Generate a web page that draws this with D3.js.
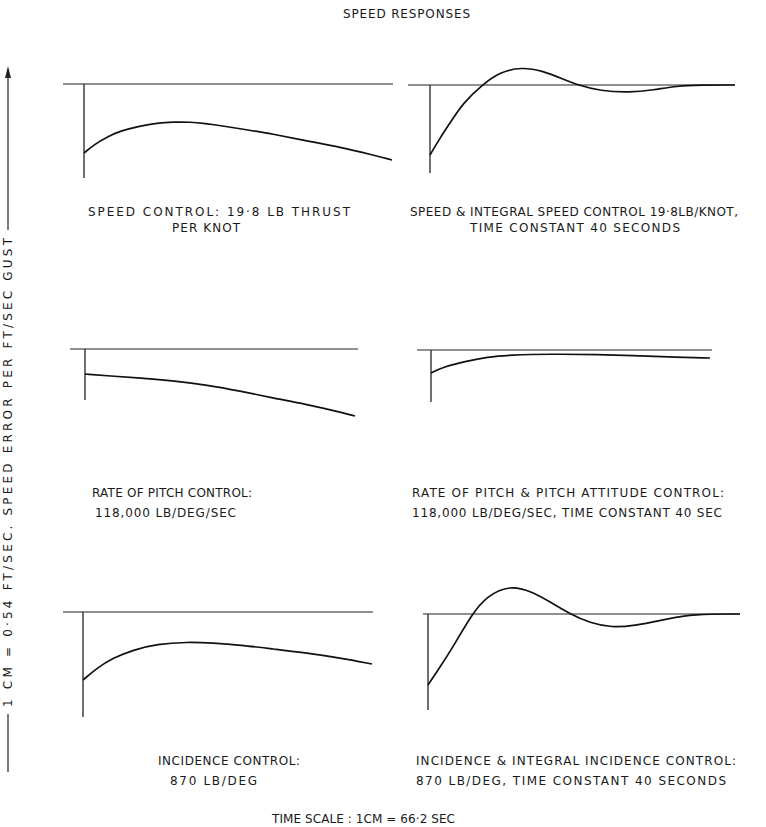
<!DOCTYPE html>
<html lang="en">
  <head>
    <title>Speed responses</title>
    <script src="https://d3js.org/d3.v7.min.js" charset="utf-8"></script>
    <style type="text/css">
      body {
        margin: 0;
        background: white;
        font-family: "DejaVu Sans", "Liberation Sans", sans-serif;
      }
      text {
        fill: #1a1a1a;
        font-size: 12px;
      }
    </style>
  </head>
  <body>
    <script>
      // time in seconds after the gust, speed error in ft/sec per ft/sec gust (chart units)
      var titles = ["SPEED RESPONSES"];
      var yLabel = "1 CM = 0\u00b754  FT/SEC. SPEED ERROR PER FT/SEC GUST";
      var xLabel = "TIME SCALE : 1CM = 66\u00b72 SEC";

      var captions = [
        ["SPEED CONTROL: 19\u00b78 LB THRUST", "PER KNOT"],
        ["SPEED & INTEGRAL SPEED CONTROL 19\u00b78LB/KNOT,", "TIME CONSTANT 40 SECONDS"],
        ["RATE OF PITCH CONTROL:", "118,000 LB/DEG/SEC"],
        ["RATE OF PITCH & PITCH ATTITUDE CONTROL:", "118,000 LB/DEG/SEC, TIME CONSTANT 40 SEC"],
        ["INCIDENCE CONTROL:", "870 LB/DEG"],
        ["INCIDENCE & INTEGRAL INCIDENCE CONTROL:", "870 LB/DEG, TIME CONSTANT 40 SECONDS"]
      ];

      var timeSpeed = [0, 22, 46, 72, 112, 146, 178, 212, 242, 278, 328, 378, 446, 512, 578, 616];
      var errSpeed = [-0.69, -0.60, -0.53, -0.47, -0.42, -0.39, -0.38, -0.38, -0.395, -0.42, -0.46, -0.50, -0.57, -0.63, -0.71, -0.76];

      var timeSpeedInt = [0, 20, 40, 66, 104, 140, 184, 226, 266, 296, 340, 400, 446, 494, 540, 610];
      var errSpeedInt = [-0.70, -0.53, -0.38, -0.18, 0, 0.13, 0.18, 0.14, 0.06, 0, -0.06, -0.075, -0.05, -0.01, 0, 0];

      var timePitch = [0, 50, 110, 180, 244, 310, 376, 440, 510, 540];
      var errPitch = [-0.25, -0.27, -0.29, -0.32, -0.36, -0.42, -0.49, -0.55, -0.63, -0.67];

      var timePitchAtt = [0, 24, 72, 112, 158, 238, 338, 404, 472, 558];
      var errPitchAtt = [-0.23, -0.17, -0.11, -0.07, -0.05, -0.04, -0.045, -0.055, -0.07, -0.08];

      var timeInc = [0, 28, 60, 100, 148, 208, 260, 314, 380, 448, 514, 578];
      var errInc = [-0.68, -0.56, -0.46, -0.38, -0.32, -0.30, -0.31, -0.33, -0.37, -0.41, -0.46, -0.52];

      var timeIncInt = [0, 24, 50, 88, 118, 164, 210, 244, 284, 324, 368, 410, 478, 530, 624];
      var errIncInt = [-0.71, -0.53, -0.33, 0, 0.18, 0.29, 0.22, 0.12, 0, -0.09, -0.135, -0.12, -0.05, 0, 0];

      // time span of each zero line, and depth of the gust marker
      var timeSpans = [[-42, 618], [-44, 610], [-30, 546], [-28, 562], [-40, 580], [-10, 624]];
      var gustDepth = [0.94, 0.88, 0.51, 0.52, 1.05, 0.96];

      var series = [
        [timeSpeed, errSpeed], [timeSpeedInt, errSpeedInt],
        [timePitch, errPitch], [timePitchAtt, errPitchAtt],
        [timeInc, errInc], [timeIncInt, errIncInt]
      ];

      var width = 766;
      var height = 827;
      var pxPerUnit = 100;

      // panel placement: zero line extent and level
      var panels = [
        {x0: 63, x1: 393, y0: 84},
        {x0: 408, x1: 735, y0: 85},
        {x0: 70, x1: 358, y0: 349},
        {x0: 417, x1: 712, y0: 350},
        {x0: 63, x1: 373, y0: 612},
        {x0: 423, x1: 740, y0: 614}
      ];

      // caption lines: x, baseline y, drawn width
      var captionPos = [
        [[88, 216, 262], [172, 232, 68]],
        [[410, 216, 328], [470, 232, 210]],
        [[92, 497, 160], [95, 517, 141]],
        [[412, 497, 312], [412, 517, 310]],
        [[158, 765, 142], [170, 785, 87]],
        [[416, 765, 320], [416, 785, 310]]
      ];

      var svg = d3.select("body")
        .append("svg")
        .attr("width", width)
        .attr("height", height);

      var line = d3.line().curve(d3.curveBasis);

      panels.forEach(function(p, i) {
        var x = d3.scaleLinear().domain(timeSpans[i]).range([p.x0, p.x1]);
        var y = d3.scaleLinear().domain([0, -1]).range([p.y0, p.y0 + pxPerUnit]);
        var g = svg.append("g");

        // zero line
        g.append("line")
          .attr("x1", x(timeSpans[i][0])).attr("x2", x(timeSpans[i][1]))
          .attr("y1", y(0)).attr("y2", y(0))
          .attr("stroke", "#222").attr("stroke-width", 1.2);

        // gust marker
        g.append("line")
          .attr("x1", x(0)).attr("x2", x(0))
          .attr("y1", y(0)).attr("y2", y(-gustDepth[i]))
          .attr("stroke", "#222").attr("stroke-width", 1.3);

        var pts = series[i][0].map(function(t, k) { return [x(t), y(series[i][1][k])]; });
        g.append("path")
          .attr("d", line(pts))
          .attr("fill", "none")
          .attr("stroke", "#111")
          .attr("stroke-width", 1.7);

        captions[i].forEach(function(txt, k) {
          var c = captionPos[i][k];
          g.append("text")
            .attr("x", c[0]).attr("y", c[1])
            .attr("textLength", c[2])
            .attr("lengthAdjust", "spacing")
            .text(txt);
        });
      });

      // title
      svg.append("text")
        .attr("x", 343).attr("y", 18)
        .attr("textLength", 127)
        .attr("lengthAdjust", "spacing")
        .text(titles[0]);

      // time scale note
      svg.append("text")
        .attr("x", 272).attr("y", 823)
        .attr("textLength", 183)
        .attr("lengthAdjust", "spacing")
        .text(xLabel);

      // vertical scale label with arrow
      var yl = svg.append("g");
      yl.append("line")
        .attr("x1", 8).attr("x2", 8).attr("y1", 772).attr("y2", 714)
        .attr("stroke", "#222").attr("stroke-width", 1.2);
      yl.append("line")
        .attr("x1", 8).attr("x2", 8).attr("y1", 230).attr("y2", 70)
        .attr("stroke", "#222").attr("stroke-width", 1.2);
      yl.append("path")
        .attr("d", "M8,66 L5,78 L11,78 Z")
        .attr("fill", "#222");
      yl.append("text")
        .attr("transform", "translate(12,707) rotate(-90)")
        .attr("textLength", 469)
        .attr("lengthAdjust", "spacing")
        .text(yLabel);
    </script>
  </body>
</html>
